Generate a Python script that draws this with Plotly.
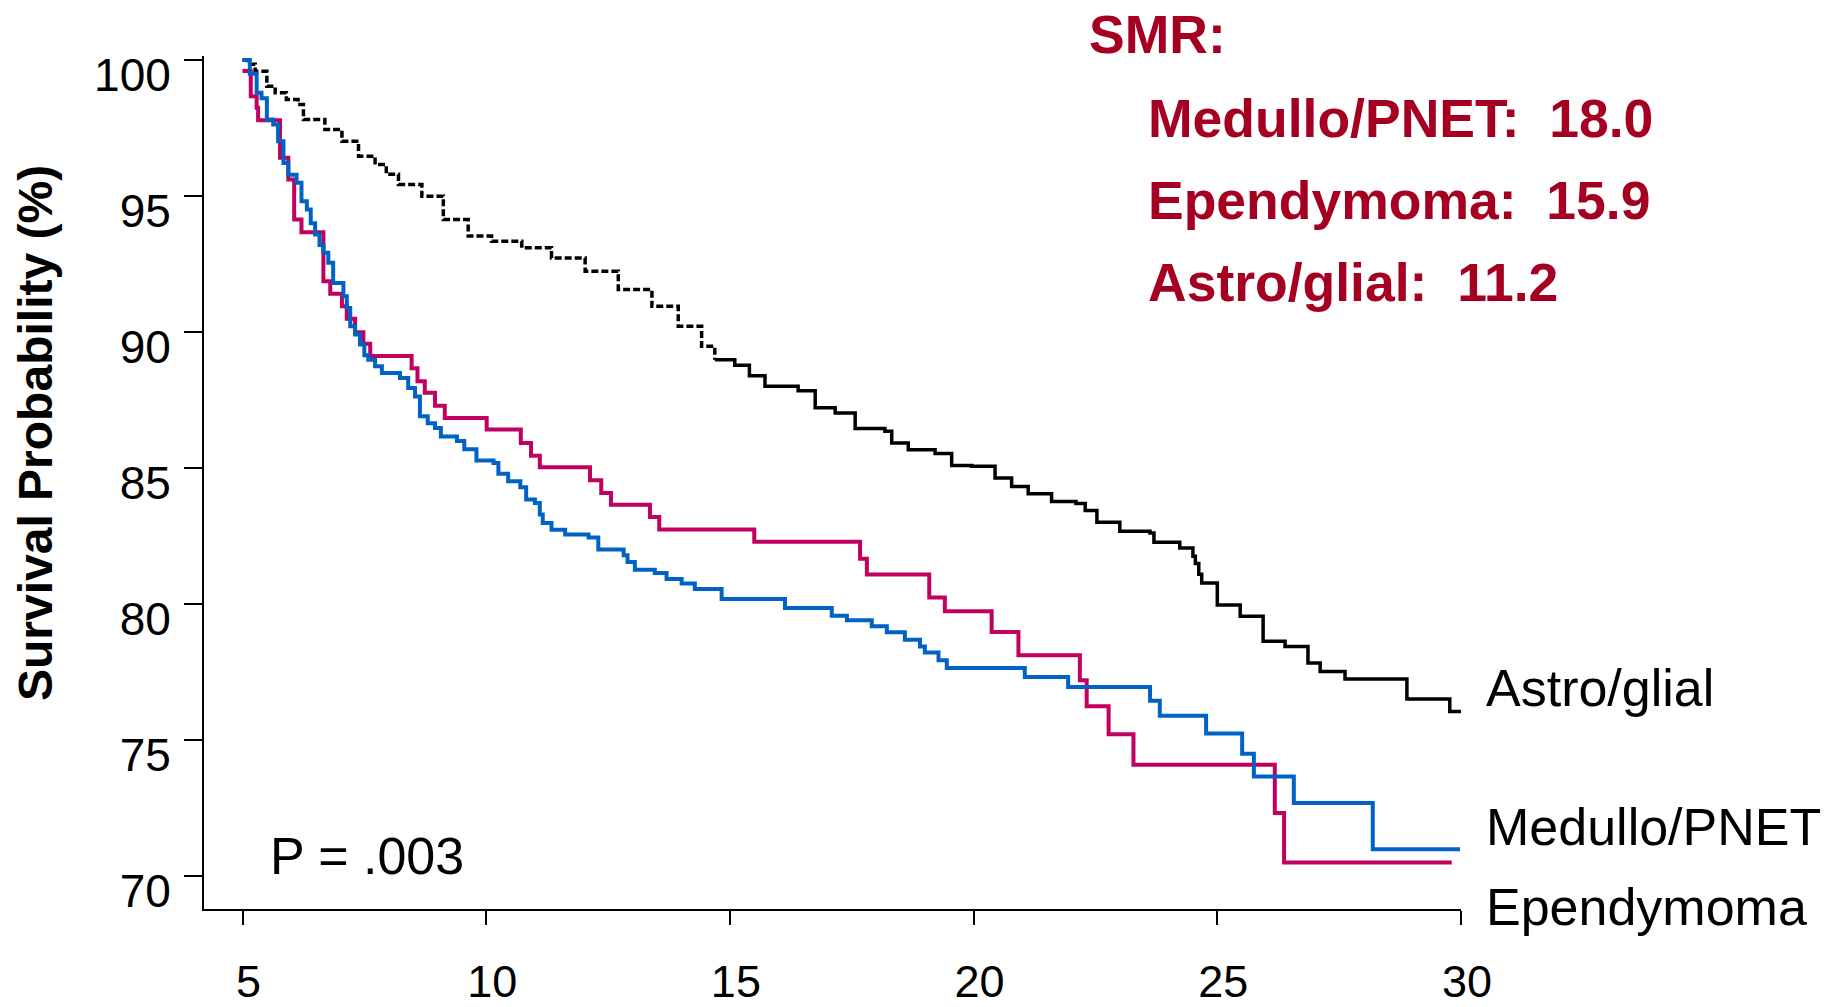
import numpy as np
import plotly.graph_objects as go

# ---------------- data ----------------
years_astro = [5.0, 5.1, 5.26, 5.5, 5.67, 5.9, 6.14, 6.25, 6.69, 7.04, 7.38, 7.72, 7.95, 8.20,
               8.68, 9.12, 9.63, 10.11, 10.73, 11.34, 12.03, 12.71, 13.40, 13.94, 14.42, 14.69,
               15.10, 15.40, 15.72, 16.40, 16.75, 17.16, 17.57, 18.18, 18.32, 18.66, 19.21, 19.55,
               19.96, 20.44, 20.78, 21.12, 21.60, 22.10, 22.29, 22.53, 23.00, 23.62, 23.70, 24.23,
               24.50, 24.55, 24.62, 24.68, 25.00, 25.47, 25.94, 26.39, 26.86, 27.11, 27.62, 28.89,
               29.77, 30.0]
surv_astro = [100.0, 99.85, 99.59, 99.04, 98.80, 98.55, 98.37, 97.82, 97.45, 97.02, 96.47, 96.16,
              95.80, 95.43, 95.00, 94.14, 93.53, 93.34, 93.10, 92.73, 92.24, 91.57, 90.95, 90.22,
              89.48, 88.99, 88.78, 88.40, 88.01, 87.85, 87.22, 87.03, 86.46, 86.36, 85.93, 85.68,
              85.54, 85.10, 85.07, 84.64, 84.33, 84.06, 83.78, 83.70, 83.45, 83.01, 82.68, 82.62,
              82.28, 82.07, 81.76, 81.50, 81.10, 80.78, 79.97, 79.56, 78.64, 78.45, 77.84, 77.53,
              77.25, 76.52, 76.06, 76.06]

years_medullo = [5.0, 5.15, 5.29, 5.39, 5.50, 5.63, 5.73, 5.84, 5.94, 6.11, 6.21, 6.32, 6.40, 6.49,
                 6.58, 6.66, 6.76, 6.86, 7.07, 7.14, 7.21, 7.31, 7.41, 7.50, 7.58, 7.72, 7.86, 8.23,
                 8.40, 8.54, 8.64, 8.80, 8.95, 9.07, 9.40, 9.55, 9.80, 10.15, 10.25, 10.45, 10.70,
                 10.82, 11.00, 11.10, 11.16, 11.34, 11.62, 12.10, 12.30, 12.82, 12.90, 13.05, 13.46,
                 13.70, 14.01, 14.28, 14.83, 16.13, 17.09, 17.40, 17.91, 18.22, 18.59, 18.90, 19.00,
                 19.28, 19.45, 21.05, 21.94, 23.62, 23.82, 24.77, 25.51, 25.75, 26.57, 28.19, 29.98]
surv_medullo = [100.0, 99.5, 98.8, 98.6, 97.82, 97.63, 97.02, 96.22, 95.79, 95.49, 94.81, 94.51,
                94.0, 93.59, 93.2, 92.92, 92.55, 91.81, 91.32, 90.89, 90.22, 89.91, 89.55, 89.15,
                88.99, 88.75, 88.50, 88.32, 87.95, 87.64, 86.91, 86.65, 86.48, 86.17, 86.0, 85.7,
                85.28, 85.19, 84.8, 84.52, 84.3, 83.85, 83.72, 83.3, 82.99, 82.74, 82.56, 82.45,
                82.01, 81.8, 81.55, 81.27, 81.15, 80.93, 80.76, 80.56, 80.19, 79.86, 79.58, 79.41,
                79.19, 78.97, 78.70, 78.45, 78.23, 77.94, 77.66, 77.33, 76.96, 76.45, 75.90, 75.25,
                74.51, 73.67, 72.70, 71.0, 71.0]

years_ependy = [5.0, 5.17, 5.29, 5.32, 5.77, 5.94, 6.06, 6.21, 6.66, 6.80, 7.04, 7.14, 7.31, 7.48,
                7.62, 8.47, 8.59, 8.74, 8.95, 9.15, 10.01, 10.71, 10.92, 11.10, 12.13, 12.36, 12.56,
                13.36, 13.55, 15.50, 17.67, 17.81, 19.09, 19.41, 20.37, 20.92, 22.18, 22.32, 22.77,
                23.28, 26.18, 26.37, 29.81]
surv_ependy = [99.6, 98.67, 98.25, 97.79, 96.41, 95.61, 94.14, 93.67, 91.87, 91.41, 90.95, 90.49,
               90.0, 89.57, 89.12, 88.67, 88.2, 87.77, 87.3, 86.85, 86.42, 85.93, 85.46, 85.04,
               84.56, 84.09, 83.66, 83.21, 82.75, 82.3, 81.67, 81.09, 80.25, 79.74, 78.98, 78.13,
               77.21, 76.25, 75.22, 74.1, 72.33, 70.51, 70.51]

x_ticks = [5, 10, 15, 20, 25, 30]
y_ticks = [70, 75, 80, 85, 90, 95, 100]
group_labels = ["Astro/glial", "Medullo/PNET", "Ependymoma"]
smr_title = "SMR:"
smr_lines = ["Medullo/PNET:\u00a0\u00a018.0", "Ependymoma:\u00a0\u00a015.9", "Astro/glial:\u00a0\u00a011.2"]
p_text = "P = .003"
y_title = "Survival Probability (%)"

# ---------------- styling ----------------
FONT = "Arial, 'Liberation Sans', Helvetica, sans-serif"
BLACK = "#000000"
BLUE = "#0062C4"
RED = "#C2005F"
SMR_RED = "#A50021"

fig = go.Figure()

xa = np.array(years_astro)
ya = np.array(surv_astro)
split = int(np.searchsorted(xa, 14.69))
fig.add_trace(go.Scatter(x=xa[:split + 1], y=ya[:split + 1], mode="lines",
                         line=dict(color=BLACK, width=3.5, shape="hv", dash="7px,3px"),
                         hoverinfo="skip", showlegend=False))
fig.add_trace(go.Scatter(x=xa[split:], y=ya[split:], mode="lines",
                         line=dict(color=BLACK, width=3.5, shape="hv"),
                         hoverinfo="skip", showlegend=False))
fig.add_trace(go.Scatter(x=years_ependy, y=surv_ependy, mode="lines",
                         line=dict(color=RED, width=4, shape="hv"),
                         hoverinfo="skip", showlegend=False))
fig.add_trace(go.Scatter(x=years_medullo, y=surv_medullo, mode="lines",
                         line=dict(color=BLUE, width=4, shape="hv"),
                         hoverinfo="skip", showlegend=False))

W, H = 1828, 1007
L, R, T, B = 204, 367, 56, 98
PW, PH = W - L - R, H - T - B


def px_to_paper(px, py):
    return (px - L) / PW, (H - B - py) / PH


annotations = []
# SMR block
for txt, (px, py) in zip([smr_title] + smr_lines,
                         [(1087, 35), (1146, 118), (1146, 200.5), (1146, 283)]):
    ax, ay = px_to_paper(px, py)
    annotations.append(dict(x=ax, y=ay, xref="paper", yref="paper", text="<b>" + txt + "</b>",
                            showarrow=False, xanchor="left", yanchor="middle",
                            font=dict(family=FONT, size=53.5, color=SMR_RED)))
# right-side group labels
for txt, py in zip(group_labels, [688, 827, 907]):
    ax, ay = px_to_paper(1484, py)
    annotations.append(dict(x=ax, y=ay, xref="paper", yref="paper", text=txt,
                            showarrow=False, xanchor="left", yanchor="middle",
                            font=dict(family=FONT, size=52, color=BLACK)))
# p value
ax, ay = px_to_paper(268, 856)
annotations.append(dict(x=ax, y=ay, xref="paper", yref="paper", text=p_text,
                        showarrow=False, xanchor="left", yanchor="middle",
                        font=dict(family=FONT, size=52, color=BLACK)))
# y-axis title
ax, ay = px_to_paper(35, 433)
annotations.append(dict(x=ax, y=ay, xref="paper", yref="paper", text="<b>" + y_title + "</b>",
                        showarrow=False, xanchor="center", yanchor="middle", textangle=-90,
                        font=dict(family=FONT, size=48, color=BLACK)))

fig.update_layout(
    width=W, height=H, autosize=False,
    margin=dict(l=L, r=R, t=T, b=B, pad=0, autoexpand=False),
    paper_bgcolor="white", plot_bgcolor="white",
    showlegend=False,
    annotations=annotations,
    xaxis=dict(range=[4.21, 30.0], tickvals=x_ticks, ticktext=[str(v) for v in x_ticks],
               showgrid=False, zeroline=False, showline=True, linecolor=BLACK, linewidth=2,
               ticks="outside", ticklen=14, tickwidth=2, tickcolor=BLACK,
               tickfont=dict(family=FONT, size=45, color=BLACK), automargin=False,
               ticklabelstandoff=18, ticklabelshift=6, fixedrange=True),
    yaxis=dict(range=[68.8, 100.15], tickvals=y_ticks, ticktext=[str(v) for v in y_ticks],
               showgrid=False, zeroline=False, showline=True, linecolor=BLACK, linewidth=2,
               ticks="outside", ticklen=18, tickwidth=2, tickcolor=BLACK,
               tickfont=dict(family=FONT, size=46, color=BLACK), automargin=False,
               ticklabelstandoff=4, ticklabelshift=15, fixedrange=True),
)

fig.write_html("out.html", config={"displayModeBar": False, "staticPlot": True},
               post_script="document.body.style.margin='0';document.body.style.overflow='hidden';")
